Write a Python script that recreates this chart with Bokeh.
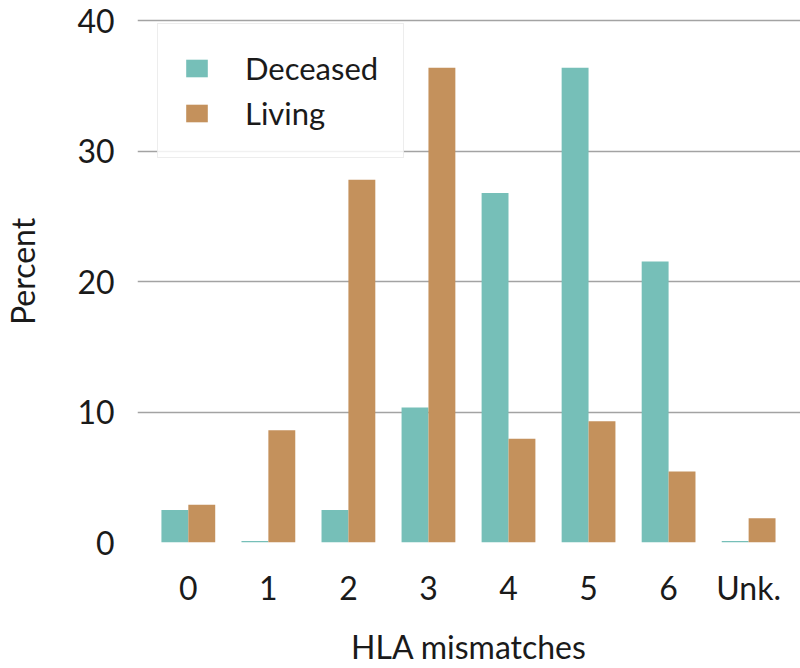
from bokeh.plotting import figure
from bokeh.models import Range1d, FixedTicker, ColumnDataSource, Legend, LegendItem
from bokeh.transform import dodge
from bokeh.embed import file_html
from bokeh.resources import INLINE

categories = ["0", "1", "2", "3", "4", "5", "6", "Unk."]
deceased = [2.5, 0.12, 2.5, 10.35, 26.8, 36.4, 21.55, 0.12]
living = [2.9, 8.6, 27.8, 36.4, 7.95, 9.3, 5.45, 1.85]
y_ticks = [0, 10, 20, 30, 40]
grid_ticks = [10, 20, 30, 40]

TEAL = "#76BFB8"
TAN = "#C4915C"
FONT = "Lato"
TXT = "#1a1a1a"

src = ColumnDataSource(dict(x=list(range(len(categories))), deceased=deceased, living=living))

p = figure(width=800, height=668, output_backend="svg", toolbar_location=None,
           x_range=Range1d(-0.635, 7.648), y_range=Range1d(0, 41.55),
           min_border_left=135, min_border_right=0, min_border_top=0, min_border_bottom=125)
p.outline_line_color = None
p.background_fill_color = "white"

bw = 0.336
r1 = p.vbar(x=dodge("x", -bw / 2), top="deceased", width=bw, source=src, fill_color=TEAL, line_color=None)
r2 = p.vbar(x=dodge("x", bw / 2), top="living", width=bw, source=src, fill_color=TAN, line_color=None)

# axes
p.xaxis.ticker = FixedTicker(ticks=list(range(len(categories))))
p.xaxis.major_label_overrides = {i: c for i, c in enumerate(categories)}
p.yaxis.ticker = FixedTicker(ticks=y_ticks)
for ax in (p.xaxis[0], p.yaxis[0]):
    ax.axis_line_color = None
    ax.major_tick_line_color = None
    ax.minor_tick_line_color = None
    ax.major_tick_out = 0
    ax.major_label_text_font = FONT
    ax.major_label_text_font_size = "32px"
    ax.major_label_text_color = TXT
    ax.axis_label_text_font = FONT
    ax.axis_label_text_font_size = "32px"
    ax.axis_label_text_font_style = "normal"
    ax.axis_label_text_color = TXT

p.xaxis.axis_label = "HLA mismatches"
p.yaxis.axis_label = "Percent"
p.xaxis.major_label_standoff = 25
p.xaxis.axis_label_standoff = 17
p.yaxis.major_label_standoff = 23
p.yaxis.axis_label_standoff = 32

p.xgrid.grid_line_color = None
p.ygrid.ticker = FixedTicker(ticks=grid_ticks)
p.ygrid.grid_line_color = "#a3a3a3"
p.ygrid.grid_line_width = 1.6

legend = Legend(items=[LegendItem(label="Deceased", renderers=[r1]),
                       LegendItem(label="Living", renderers=[r2])],
                location=(20, 384), orientation="vertical")
legend.label_text_font = FONT
legend.label_text_font_size = "31px"
legend.label_text_color = TXT
legend.glyph_width = 27
legend.glyph_height = 22
legend.label_standoff = 35
legend.padding = 25
legend.spacing = 7
legend.margin = 0
legend.border_line_color = "#dcdcdc"
legend.border_line_width = 1
legend.background_fill_color = "white"
legend.background_fill_alpha = 0.85
p.add_layout(legend, "center")

open("out.html", "w").write(file_html(p, INLINE))
